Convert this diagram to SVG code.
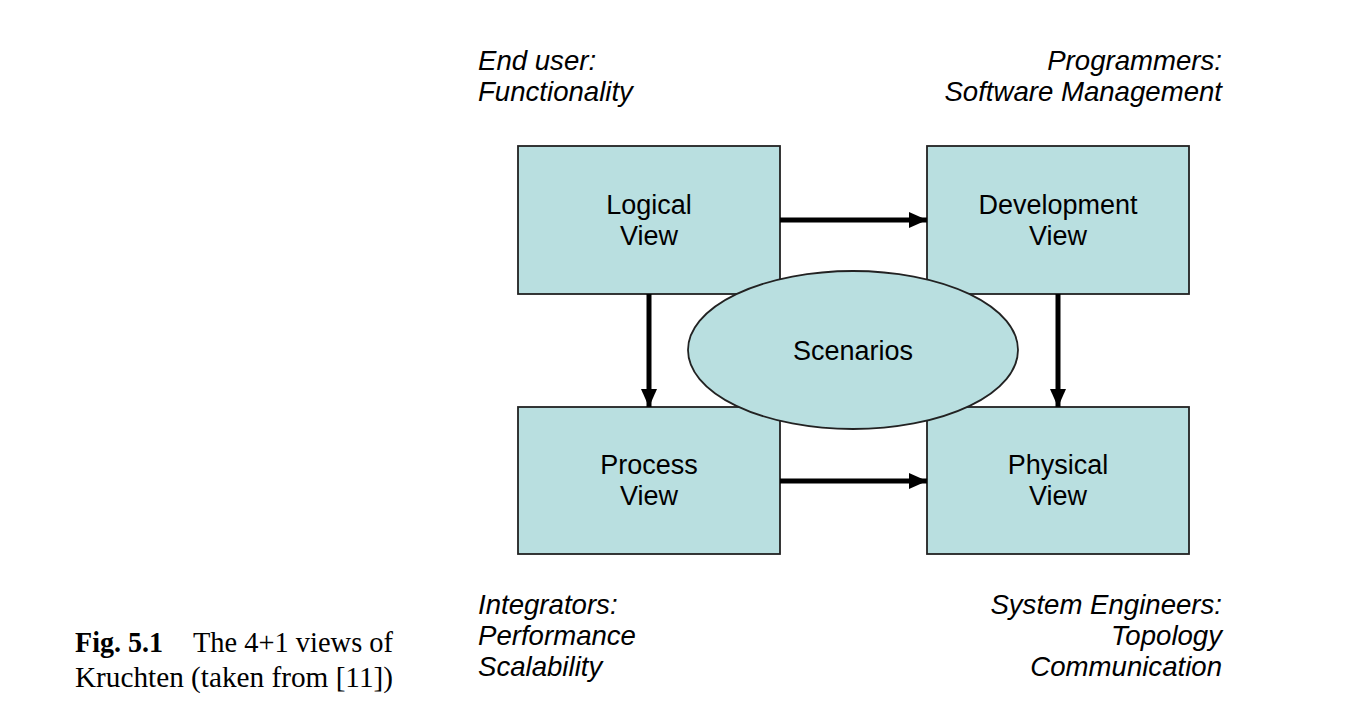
<svg xmlns="http://www.w3.org/2000/svg" width="1346" height="716" viewBox="0 0 1346 716">
<style>
.box{fill:#b9dfe0;stroke:#222;stroke-width:1.8}
.lbl{font-family:"Liberation Sans",Arial,sans-serif;font-size:27px;fill:#000;text-anchor:middle}
.it{font-family:"Liberation Sans",Arial,sans-serif;font-size:27.6px;font-style:italic;fill:#000}
.r{text-anchor:end}
.cap{font-family:"Liberation Serif","Times New Roman",serif;font-size:28.5px;fill:#000}
.conn{stroke:#000;stroke-width:5;fill:none}
</style>
<defs>
<marker id="ah" markerUnits="userSpaceOnUse" markerWidth="18" markerHeight="16" refX="18" refY="8" orient="auto">
<path d="M0,0 L18,8 L0,16 Z" fill="#000"/>
</marker>
</defs>
<rect width="1346" height="716" fill="#fff"/>

<g id="logical">
<rect class="box" x="518" y="146" width="262" height="148"/>
<text class="lbl" x="649" y="214">Logical</text>
<text class="lbl" x="649" y="245">View</text>
</g>
<g id="development">
<rect class="box" x="927" y="146" width="262" height="148"/>
<text class="lbl" x="1058" y="214">Development</text>
<text class="lbl" x="1058" y="245">View</text>
</g>
<g id="process">
<rect class="box" x="518" y="407" width="262" height="147"/>
<text class="lbl" x="649" y="474">Process</text>
<text class="lbl" x="649" y="505">View</text>
</g>
<g id="physical">
<rect class="box" x="927" y="407" width="262" height="147"/>
<text class="lbl" x="1058" y="474">Physical</text>
<text class="lbl" x="1058" y="505">View</text>
</g>

<g id="connectors">
<line class="conn" x1="780" y1="220" x2="927" y2="220" marker-end="url(#ah)"/>
<line class="conn" x1="649" y1="294" x2="649" y2="407" marker-end="url(#ah)"/>
<line class="conn" x1="1058" y1="294" x2="1058" y2="407" marker-end="url(#ah)"/>
<line class="conn" x1="780" y1="481" x2="927" y2="481" marker-end="url(#ah)"/>
</g>

<g id="scenarios">
<ellipse class="box" cx="853" cy="350" rx="165" ry="79"/>
<text class="lbl" x="853" y="360">Scenarios</text>
</g>

<g id="annotations">
<text class="it" x="478" y="70">End user:</text>
<text class="it" x="478" y="101">Functionality</text>
<text class="it r" x="1222" y="70">Programmers:</text>
<text class="it r" x="1222" y="101">Software Management</text>
<text class="it" x="478" y="614">Integrators:</text>
<text class="it" x="478" y="645">Performance</text>
<text class="it" x="478" y="676">Scalability</text>
<text class="it r" x="1222" y="614">System Engineers:</text>
<text class="it r" x="1222" y="645">Topology</text>
<text class="it r" x="1222" y="676">Communication</text>
</g>

<g id="caption">
<text class="cap" x="75" y="652"><tspan font-weight="bold" textLength="88" lengthAdjust="spacingAndGlyphs">Fig. 5.1</tspan><tspan x="193" textLength="200" lengthAdjust="spacingAndGlyphs">The 4+1 views of</tspan></text>
<text class="cap" x="75" y="687" textLength="318" lengthAdjust="spacingAndGlyphs">Kruchten (taken from [11])</text>
</g>
</svg>
